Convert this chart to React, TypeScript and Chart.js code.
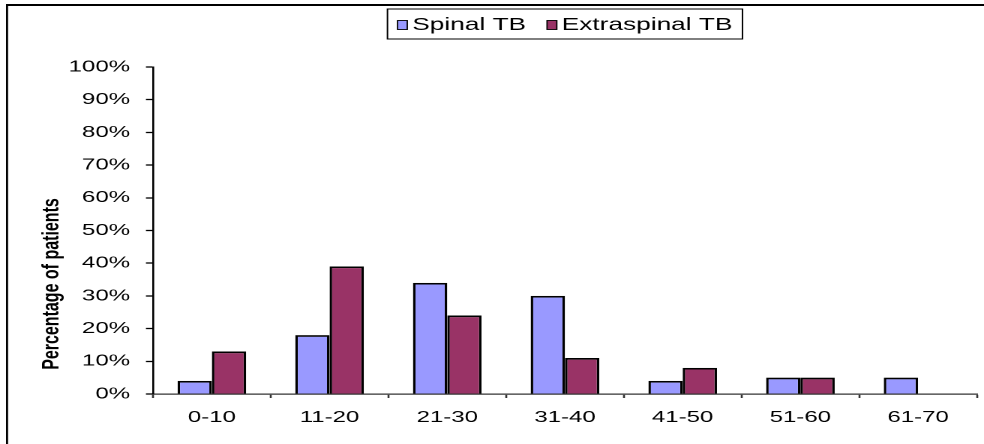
import React, { useEffect, useRef } from "react";
import { Chart, registerables } from "chart.js";

Chart.register(...registerables);

// Age bands of the patients (years)
const ageGroups: string[] = ["0-10", "11-20", "21-30", "31-40", "41-50", "51-60", "61-70"];
// Share of patients in each age band (%)
const spinalTB: number[] = [4, 18, 34, 30, 4, 5, 5];
const extraspinalTB: number[] = [13, 39, 24, 11, 8, 5, 0];
// Value axis
const yMax = 100;
const yStep = 10;
const yAxisTitle = "Percentage of patients";

const spinalColor = "#9999FF";
const extraspinalColor = "#993366";
const FONT = "'Liberation Sans', Arial, Helvetica, sans-serif";

// The drawing surface is laid out 656 units wide and shown 984px wide.
const LOGICAL_W = 656;
const LOGICAL_H = 444;

const decorations = {
  id: "decorations",
  afterDraw(chart: any) {
    const { ctx, chartArea, width, height } = chart;
    ctx.save();

    // outer frame (left and top edges)
    ctx.strokeStyle = "#000";
    ctx.lineWidth = 2;
    ctx.beginPath();
    ctx.moveTo(4, 5);
    ctx.lineTo(width, 5);
    ctx.stroke();
    ctx.lineWidth = 1.4;
    ctx.beginPath();
    ctx.moveTo(4.7, 4);
    ctx.lineTo(4.7, height);
    ctx.stroke();

    // rotated value-axis title
    ctx.save();
    ctx.translate(34.5, 284);
    ctx.rotate(-Math.PI / 2);
    ctx.font = `bold 16px ${FONT}`;
    ctx.fillStyle = "#000";
    ctx.textAlign = "center";
    ctx.textBaseline = "middle";
    ctx.fillText(yAxisTitle, 0, 0);
    ctx.restore();

    // boxed legend centred over the plot
    const datasets = chart.data.datasets;
    ctx.font = `17.5px ${FONT}`;
    const swW = 6.5;
    const swH = 9;
    const swGap = 3.3;
    const itemGap = 14;
    const padX = 6.7;
    const widths = datasets.map((d: any) => ctx.measureText(d.label).width);
    let total = padX * 2 + itemGap * (datasets.length - 1);
    widths.forEach((w: number) => (total += swW + swGap + w));
    const cx = (chartArea.left + chartArea.right) / 2;
    const boxL = cx - total / 2;
    const boxT = 9;
    const boxH = 30;
    ctx.fillStyle = "#fff";
    ctx.fillRect(boxL, boxT, total, boxH);
    ctx.strokeStyle = "#000";
    ctx.lineWidth = 1;
    ctx.strokeRect(boxL, boxT, total, boxH);
    let x = boxL + padX;
    const midY = boxT + boxH / 2;
    datasets.forEach((d: any, i: number) => {
      ctx.fillStyle = d.backgroundColor;
      ctx.fillRect(x, midY - swH / 2 + 1, swW, swH);
      ctx.lineWidth = 0.9;
      ctx.strokeStyle = "#000";
      ctx.strokeRect(x, midY - swH / 2 + 1, swW, swH);
      x += swW + swGap;
      ctx.fillStyle = "#000";
      ctx.textAlign = "left";
      ctx.textBaseline = "middle";
      ctx.fillText(d.label, x, midY + 1);
      x += widths[i] + itemGap;
    });

    ctx.restore();
  },
};

export default function App() {
  const canvasRef = useRef<HTMLCanvasElement | null>(null);

  useEffect(() => {
    const canvas = canvasRef.current;
    if (!canvas) return;
    Chart.defaults.font.family = FONT;
    Chart.defaults.color = "#000";

    const chart = new Chart(canvas, {
      type: "bar",
      data: {
        labels: ageGroups,
        datasets: [
          {
            label: "Spinal TB",
            data: spinalTB,
            backgroundColor: spinalColor,
            borderColor: "#000",
            borderWidth: 1.7,
            barPercentage: 1,
            categoryPercentage: 0.583,
          },
          {
            label: "Extraspinal TB",
            data: extraspinalTB,
            backgroundColor: extraspinalColor,
            borderColor: "#000",
            borderWidth: 1.7,
            barPercentage: 1,
            categoryPercentage: 0.583,
          },
        ],
      },
      options: {
        responsive: false,
        animation: false,
        devicePixelRatio: 2,
        layout: { padding: { top: 67, right: 4.7, left: 0, bottom: 0 } },
        plugins: {
          legend: { display: false },
          tooltip: { enabled: false },
          title: { display: false },
        },
        scales: {
          x: {
            afterFit: (scale: any) => {
              scale.height = 50;
            },
            grid: {
              offset: true,
              drawOnChartArea: false,
              drawTicks: true,
              tickLength: 4,
              tickColor: "#333",
              tickWidth: 1.3,
            },
            border: { display: true, color: "#333", width: 1.3 },
            ticks: { padding: 10, font: { size: 16 }, color: "#000", maxRotation: 0 },
          },
          y: {
            min: 0,
            max: yMax,
            afterFit: (scale: any) => {
              scale.width = 102;
            },
            grid: {
              drawOnChartArea: false,
              drawTicks: true,
              tickLength: 4.7,
              tickColor: "#000",
              tickWidth: 1.3,
            },
            border: { display: true, color: "#000", width: 1.3 },
            ticks: {
              stepSize: yStep,
              padding: 10.6,
              font: { size: 16 },
              color: "#000",
              callback: (v: any) => `${v}%`,
            },
          },
        },
      },
      plugins: [decorations],
    });

    return () => chart.destroy();
  }, []);

  return (
    <div style={{ position: "absolute", left: 0, top: 0, width: 984, height: 444, background: "#fff" }}>
      <canvas
        ref={canvasRef}
        width={LOGICAL_W}
        height={LOGICAL_H}
        style={{ width: "984px", height: "444px", display: "block" }}
      />
    </div>
  );
}
